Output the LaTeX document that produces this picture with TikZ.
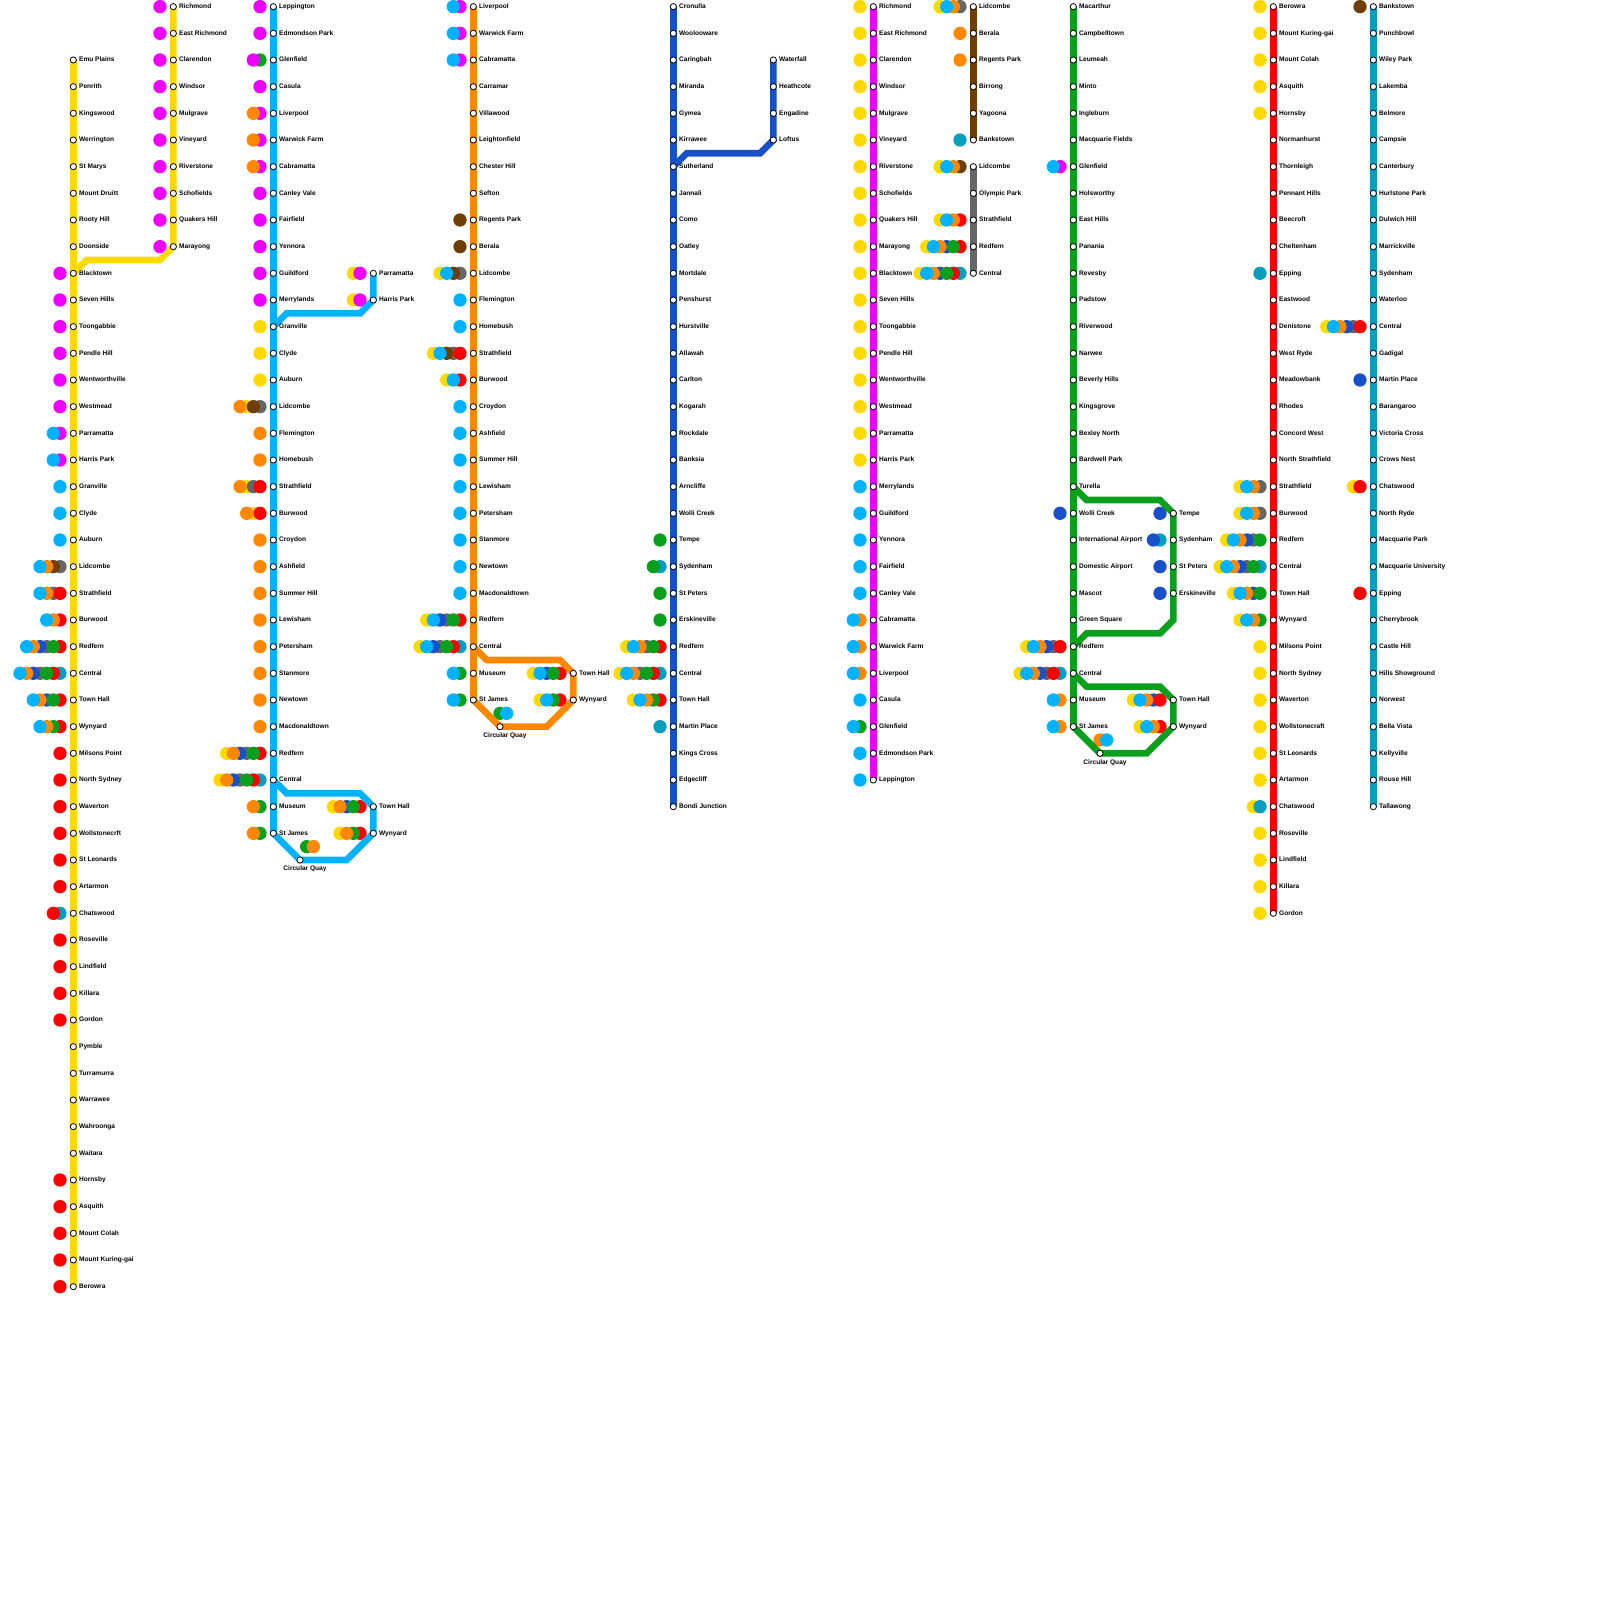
\documentclass[tikz,border=0pt]{standalone}
\usepackage{fontspec}
\setmainfont{Liberation Sans}
\usetikzlibrary{positioning,calc}
\definecolor{Ty}{HTML}{FFD900}
\definecolor{Tm}{HTML}{EE00FF}
\definecolor{Tl}{HTML}{00B2FF}
\definecolor{To}{HTML}{FF8800}
\definecolor{Tb}{HTML}{1850C8}
\definecolor{Tg}{HTML}{0AA01E}
\definecolor{Tr}{HTML}{FF0000}
\definecolor{Tk}{HTML}{666666}
\definecolor{Tn}{HTML}{6E3E05}
\definecolor{Tt}{HTML}{0A9EBE}
\pgfdeclarelayer{y}\pgfdeclarelayer{t}\pgfdeclarelayer{k}\pgfdeclarelayer{n}\pgfdeclarelayer{b}
\pgfdeclarelayer{r}\pgfdeclarelayer{g}\pgfdeclarelayer{m}\pgfdeclarelayer{o}\pgfdeclarelayer{l}
\pgfdeclarelayer{lines}
\pgfsetlayers{y,t,k,n,b,r,g,m,o,l,lines,main}
\tikzset{
  stn/.style={circle,draw=black,fill=white,line width=.008cm,minimum size=.062cm,inner sep=0pt,outer sep=0pt},
  lbl/.style={inner sep=0pt,text height=1.4pt,text depth=.35pt,font=\fontsize{1.87}{2.2}\selectfont\bfseries},
  spot/.style={circle,fill=T#1,minimum size=.1333cm,inner sep=0pt,outer sep=0pt},
  route/.style={draw=T#1,line width=.0667cm}
}
\newcommand{\stations}[4]{%
  \foreach \sname [count=\k from #3] in {#4} {
    \node[stn] (#1-\k) at (#2,{-.06667-.26667*\k}) {};
    \node[lbl,right=.2mm of #1-\k] (#1-\k-l) {\sname};
  }%
}
\newcommand{\spots}[2]{%
  \foreach \rows/\cs in {#2} {
    \foreach \k in \rows {
      \foreach \c [count=\i from 0] in \cs {
        \begin{pgfonlayer}{\c}
          \node[spot=\c] (#1-\k-\c) at ($(#1-\k)+({-.13333-.06667*\i},0)$) {};
        \end{pgfonlayer}
      }
    }
  }%
}
\newcommand{\quay}[5]{%
  \node[stn] (#1) at (#2,{-.06667-.26667*#3}) {};
  \node[lbl,below=.2mm of #1,xshift=.5mm] (#1-l) {Circular Quay};
  \foreach \c [count=\i from 0] in {#5} {
    \begin{pgfonlayer}{\c}
      \node[spot=\c] (#1-\c) at ($(#1)+({#4+.06667*\i},.13333)$) {};
    \end{pgfonlayer}
  }%
}
\begin{document}
\begin{tikzpicture}
\useasboundingbox (0,0) rectangle (16,-16);

\stations{T1}{.73333}{2}{Emu Plains,Penrith,Kingswood,Werrington,St Marys,Mount Druitt,Rooty Hill,Doonside,Blacktown,Seven Hills,Toongabbie,Pendle Hill,Wentworthville,Westmead,Parramatta,Harris Park,Granville,Clyde,Auburn,Lidcombe,Strathfield,Burwood,Redfern,Central,Town Hall,Wynyard,Milsons Point,North Sydney,Waverton,Wollstonecrft,St Leonards,Artarmon,Chatswood,Roseville,Lindfield,Killara,Gordon,Pymble,Turramurra,Warrawee,Wahroonga,Waitara,Hornsby,Asquith,Mount Colah,Mount Kuring-gai,Berowra}
\spots{T1}{{10,...,15}/m,{16,17}/{m,l},{18,19,20}/l,21/{k,n,o,l},22/{r,k,o,l},23/{r,o,l},24/{r,g,k,b,o,l},25/{t,r,g,k,b,o,l},26/{r,g,b,o,l},27/{r,g,o,l},{28,...,33,35,36,37,38,44,45,46,47,48}/r,34/{t,r}}
\stations{T1r}{1.73333}{0}{Richmond,East Richmond,Clarendon,Windsor,Mulgrave,Vineyard,Riverstone,Schofields,Quakers Hill,Marayong}
\spots{T1r}{{0,...,9}/m}

\stations{T2}{2.73333}{0}{Leppington,Edmondson Park,Glenfield,Casula,Liverpool,Warwick Farm,Cabramatta,Canley Vale,Fairfield,Yennora,Guildford,Merrylands,Granville,Clyde,Auburn,Lidcombe,Flemington,Homebush,Strathfield,Burwood,Croydon,Ashfield,Summer Hill,Lewisham,Petersham,Stanmore,Newtown,Macdonaldtown,Redfern,Central,Museum,St James}
\spots{T2}{{0,1,3,7,8,9,10,11}/m,2/{g,m},{4,5,6}/{m,o},{12,13,14}/y,15/{k,n,y,o},{16,17,20,21,22,23,24,25,26,27}/o,18/{r,k,y,o},19/{r,y,o},28/{r,g,k,b,o,y},29/{t,r,g,k,b,o,y},{30,31}/{g,o}}
\stations{T2p}{3.73333}{10}{Parramatta,Harris Park}
\spots{T2p}{{10,11}/{m,y}}
\stations{T2c}{3.73333}{30}{Town Hall,Wynyard}
\spots{T2c}{30/{r,g,b,o,y},31/{r,g,o,y}}
\quay{T2q}{3}{32}{.06667}{g,o}

\stations{T3}{4.73333}{0}{Liverpool,Warwick Farm,Cabramatta,Carramar,Villawood,Leightonfield,Chester Hill,Sefton,Regents Park,Berala,Lidcombe,Flemington,Homebush,Strathfield,Burwood,Croydon,Ashfield,Summer Hill,Lewisham,Petersham,Stanmore,Newtown,Macdonaldtown,Redfern,Central,Museum,St James}
\spots{T3}{{0,1,2}/{m,l},{8,9}/n,10/{k,n,l,y},{11,12,15,16,17,18,19,20,21,22}/l,13/{r,k,n,l,y},14/{r,l,y},23/{r,g,k,b,l,y},24/{t,r,g,k,b,l,y},{25,26}/{g,l}}
\stations{T3c}{5.73333}{25}{Town Hall,Wynyard}
\spots{T3c}{25/{r,g,b,l,y},26/{r,g,l,y}}
\quay{T3q}{5}{27}{0}{g,l}

\stations{T4}{6.73333}{0}{Cronulla,Woolooware,Caringbah,Miranda,Gymea,Kirrawee,Sutherland,Jannali,Como,Oatley,Mortdale,Penshurst,Hurstville,Allawah,Carlton,Kogarah,Rockdale,Banksia,Arncliffe,Wolli Creek,Tempe,Sydenham,St Peters,Erskineville,Redfern,Central,Town Hall,Martin Place,Kings Cross,Edgecliff,Bondi Junction}
\spots{T4}{20/g,21/{t,g},22/g,23/g,24/{r,g,k,o,l,y},25/{t,r,g,k,o,l,y},26/{r,g,o,l,y},27/t}
\stations{T4w}{7.73333}{2}{Waterfall,Heathcote,Engadine,Loftus}

\stations{T5}{8.73333}{0}{Richmond,East Richmond,Clarendon,Windsor,Mulgrave,Vineyard,Riverstone,Schofields,Quakers Hill,Marayong,Blacktown,Seven Hills,Toongabbie,Pendle Hill,Wentworthville,Westmead,Parramatta,Harris Park,Merrylands,Guildford,Yennora,Fairfield,Canley Vale,Cabramatta,Warwick Farm,Liverpool,Casula,Glenfield,Edmondson Park,Leppington}
\spots{T5}{{0,...,17}/y,{18,19,20,21,22,26,28,29}/l,{23,24,25}/{o,l},27/{g,l}}

\stations{T6}{9.73333}{0}{Lidcombe,Berala,Regents Park,Birrong,Yagoona,Bankstown}
\spots{T6}{0/{k,o,l,y},{1,2}/o,5/t}
\stations{T7}{9.73333}{6}{Lidcombe,Olympic Park,Strathfield,Redfern,Central}
\spots{T7}{6/{n,o,l,y},8/{r,o,l,y},9/{r,g,b,o,l,y},10/{t,r,g,b,o,l,y}}

\stations{T8}{10.73333}{0}{Macarthur,Campbelltown,Leumeah,Minto,Ingleburn,Macquarie Fields,Glenfield,Holsworthy,East Hills,Panania,Revesby,Padstow,Riverwood,Narwee,Beverly Hills,Kingsgrove,Bexley North,Bardwell Park,Turella,Wolli Creek,International Airport,Domestic Airport,Mascot,Green Square,Redfern,Central,Museum,St James}
\spots{T8}{6/{m,l},19/b,24/{r,k,b,o,l,y},25/{t,r,k,b,o,l,y},{26,27}/{o,l}}
\stations{T8e}{11.73333}{19}{Tempe,Sydenham,St Peters,Erskineville}
\spots{T8e}{19/b,20/{t,b},21/b,22/b}
\stations{T8c}{11.73333}{26}{Town Hall,Wynyard}
\spots{T8c}{26/{r,b,o,l,y},27/{r,o,l,y}}
\quay{T8q}{11}{28}{0}{o,l}

\stations{T9}{12.73333}{0}{Berowra,Mount Kuring-gai,Mount Colah,Asquith,Hornsby,Normanhurst,Thornleigh,Pennant Hills,Beecroft,Cheltenham,Epping,Eastwood,Denistone,West Ryde,Meadowbank,Rhodes,Concord West,North Strathfield,Strathfield,Burwood,Redfern,Central,Town Hall,Wynyard,Milsons Point,North Sydney,Waverton,Wollstonecraft,St Leonards,Artarmon,Chatswood,Roseville,Lindfield,Killara,Gordon}
\spots{T9}{{0,...,4}/y,10/t,{18,19}/{k,o,l,y},20/{g,k,b,o,l,y},21/{t,g,k,b,o,l,y},22/{g,b,o,l,y},23/{g,o,l,y},{24,25,26,27,28,29,31,32,33,34}/y,30/{t,y}}

\stations{M}{13.73333}{0}{Bankstown,Punchbowl,Wiley Park,Lakemba,Belmore,Campsie,Canterbury,Hurlstone Park,Dulwich Hill,Marrickville,Sydenham,Waterloo,Central,Gadigal,Martin Place,Barangaroo,Victoria Cross,Crows Nest,Chatswood,North Ryde,Macquarie Park,Macquarie University,Epping,Cherrybrook,Castle Hill,Hills Showground,Norwest,Bella Vista,Kellyville,Rouse Hill,Tallawong}
\spots{M}{0/n,12/{r,k,b,o,l,y},14/b,18/{r,y},22/r}

\begin{pgfonlayer}{lines}
\draw[route=y] (T1-2.center) -- (T1-48.center);
\draw[route=y] (T1r-0.center) -- (T1r-9.center) -- ($(T1r-9)+(-.13333,-.13333)$) -- ($(T1-10)+(.13333,.13333)$) -- (T1-10.center);

\draw[route=l] (T2-0.center) -- (T2-31.center);
\draw[route=l] (T2p-10.center) -- (T2p-11.center) -- ($(T2p-11)+(-.13333,-.13333)$) -- ($(T2-12)+(.13333,.13333)$) -- (T2-12.center);
\draw[route=l] (T2-29.center) -- ($(T2-29)+(.13333,-.13333)$) -- ($(T2c-30)+(-.13333,.13333)$) -- (T2c-30.center) -- (T2c-31.center) -- ($(T2c-31)+(-.26667,-.26667)$) -- (T2q.center) -- (T2-31.center);

\draw[route=o] (T3-0.center) -- (T3-26.center);
\draw[route=o] (T3-24.center) -- ($(T3-24)+(.13333,-.13333)$) -- ($(T3c-25)+(-.13333,.13333)$) -- (T3c-25.center) -- (T3c-26.center) -- ($(T3c-26)+(-.26667,-.26667)$) -- (T3q.center) -- (T3-26.center);

\draw[route=b] (T4-0.center) -- (T4-30.center);
\draw[route=b] (T4w-2.center) -- (T4w-5.center) -- ($(T4w-5)+(-.13333,-.13333)$) -- ($(T4-6)+(.13333,.13333)$) -- (T4-6.center);

\draw[route=m] (T5-0.center) -- (T5-29.center);
\draw[route=n] (T6-0.center) -- (T6-5.center);
\draw[route=k] (T7-6.center) -- (T7-10.center);

\draw[route=g] (T8-0.center) -- (T8-27.center);
\draw[route=g] (T8-18.center) -- ($(T8-18)+(.13333,-.13333)$) -- ($(T8e-19)+(-.13333,.13333)$) -- (T8e-19.center) -- (T8e-22.center) -- ($(T8e-22)+(0,-.26667)$) -- ($(T8e-22)+(-.13333,-.4)$) -- ($(T8-24)+(.13333,.13333)$) -- (T8-24.center);
\draw[route=g] (T8-25.center) -- ($(T8-25)+(.13333,-.13333)$) -- ($(T8c-26)+(-.13333,.13333)$) -- (T8c-26.center) -- (T8c-27.center) -- ($(T8c-27)+(-.26667,-.26667)$) -- (T8q.center) -- (T8-27.center);

\draw[route=r] (T9-0.center) -- (T9-34.center);
\draw[route=t] (M-0.center) -- (M-30.center);
\end{pgfonlayer}
\end{tikzpicture}
\end{document}
